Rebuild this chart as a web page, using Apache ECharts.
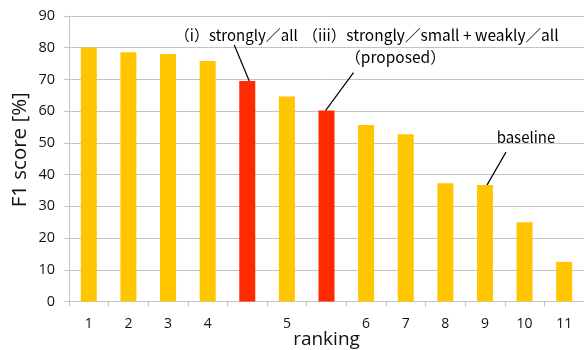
<!DOCTYPE html>
<html>
<head>
<meta charset="utf-8">
<script src="https://cdn.jsdelivr.net/npm/echarts@6/dist/echarts.min.js"></script>
<style>html,body{margin:0;padding:0;background:#fff}#c{width:584px;height:350px}</style>
</head>
<body>
<div id="c"></div>
<script>
const categories = ['1','2','3','4','','5','','6','7','8','9','10','11'];
const values = [80, 78.6, 78, 75.8, 69.5, 64.6, 60.2, 55.6, 52.7, 37.3, 36.7, 25, 12.5];
const highlighted = [4, 6];
const yTicks = {min: 0, max: 90, interval: 10};
const annotationTexts = ['（i）strongly／all', '（iii）strongly／small + weakly／all', '（proposed）', 'baseline'];

const YELLOW = '#FFC600', RED = '#FF2A00', GRID = '#C4C4C4', TXT = '#111';
const FONT = '"Open Sans", "DejaVu Sans", sans-serif';
const CJK = '"Noto Sans CJK JP", "Noto Sans", sans-serif';

const chart = echarts.init(document.getElementById('c'), null, {renderer: 'canvas'});
chart.setOption({
  animation: false,
  grid: {left: 69, right: 0, top: 16, bottom: 48.5, outerBoundsMode: 'none', containLabel: false},
  xAxis: {
    type: 'category',
    data: categories,
    name: 'ranking',
    nameLocation: 'middle',
    nameGap: 29,
    nameMoveOverlap: false,
    nameTextStyle: {fontSize: 19, color: TXT, fontFamily: FONT},
    axisLine: {lineStyle: {color: GRID}},
    axisTick: {show: true, length: 5, lineStyle: {color: GRID}},
    axisLabel: {interval: 0, margin: 16, fontSize: 14, color: TXT, fontFamily: FONT}
  },
  yAxis: {
    type: 'value',
    min: yTicks.min, max: yTicks.max, interval: yTicks.interval,
    name: 'F1 score [%]',
    nameLocation: 'middle',
    nameGap: 38,
    nameMoveOverlap: false,
    nameTextStyle: {fontSize: 20.5, color: TXT, fontFamily: FONT, padding: [0, 0, 0, 18]},
    axisLine: {show: true, lineStyle: {color: GRID}},
    axisTick: {show: true, length: 5, lineStyle: {color: GRID}},
    splitLine: {lineStyle: {color: GRID, width: 1}},
    axisLabel: {margin: 14, fontSize: 14.5, color: TXT, fontFamily: FONT}
  },
  series: [{
    type: 'bar',
    barWidth: 16,
    data: values.map((v, i) => ({value: v, itemStyle: {color: highlighted.includes(i) ? RED : YELLOW}}))
  }]
});

function px(i) { return chart.convertToPixel({seriesIndex: 0}, [i, values[i]]); }
const p1 = px(4), p2 = px(6), p3 = px(10);
const lineStyle = {stroke: '#000', lineWidth: 1.2};
const txt = (t, x, y, fs) => ({type: 'text', style: {text: t, x: x, y: y, align: 'center', verticalAlign: 'middle', fontSize: fs || 15, fontFamily: CJK, fill: '#000'}});
chart.setOption({
  graphic: [
    {type: 'line', shape: {x1: p1[0] - 13, y1: p1[1] - 36, x2: p1[0] + 2, y2: p1[1]}, style: lineStyle},
    txt(annotationTexts[0], p1[0] - 11, p1[1] - 46),
    {type: 'line', shape: {x1: p2[0] + 27, y1: p2[1] - 38, x2: p2[0] - 1, y2: p2[1]}, style: lineStyle},
    txt(annotationTexts[1], p2[0] + 104, p2[1] - 75, 15.5),
    txt(annotationTexts[2], p2[0] + 69, p2[1] - 53, 15.5),
    {type: 'line', shape: {x1: p3[0] + 21, y1: p3[1] - 33, x2: p3[0] + 2, y2: p3[1]}, style: lineStyle},
    txt(annotationTexts[3], p3[0] + 41, p3[1] - 48)
  ]
});
</script>
</body>
</html>
